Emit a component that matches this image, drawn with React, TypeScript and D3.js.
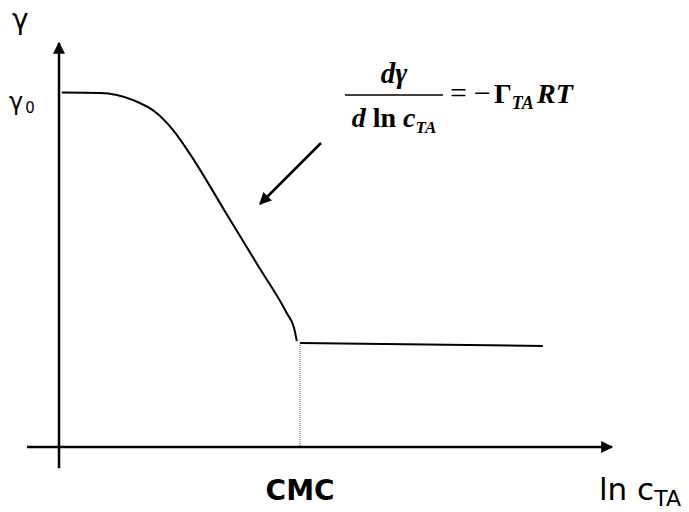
import { useEffect, useRef } from "react"
import * as d3 from "d3"

// curve: x = ln c (arbitrary units), y = surface tension γ
const curveX = [0.05, 0.74, 1.34, 1.77, 2.06, 2.37, 3.0, 3.6, 4.12, 4.25, 4.3]
const curveY = [70.2, 70.1, 68.7, 66.1, 62.8, 58.0, 46.7, 35.9, 26.5, 23.6, 21.0]
const plateauX = [4.36, 8.75]
const plateauY = [20.6, 20.0]
const cmcX = 4.36

const W = 689
const H = 512

export default function App() {
  const svgRef = useRef<SVGSVGElement | null>(null)

  useEffect(() => {
    const svg = d3.select(svgRef.current)
    svg.selectAll("*").remove()

    const x = d3.scaleLinear().domain([0, 10]).range([59, 612])
    const y = d3.scaleLinear().domain([0, 80]).range([447, 43])

    const defs = svg.append("defs")
    defs.append("marker")
      .attr("id", "head")
      .attr("viewBox", "0 0 10 10")
      .attr("refX", 9)
      .attr("refY", 5)
      .attr("markerUnits", "userSpaceOnUse")
      .attr("markerWidth", 14)
      .attr("markerHeight", 12)
      .attr("orient", "auto")
      .append("path")
      .attr("d", "M0,0 L10,5 L0,10 Z")
      .attr("fill", "#000")

    const hand = "'Comic Sans MS', 'DejaVu Sans', sans-serif"
    const math = "'Liberation Serif', 'Times New Roman', serif"

    // axes
    svg.append("line")
      .attr("x1", x(-0.58)).attr("x2", x(10))
      .attr("y1", y(0)).attr("y2", y(0))
      .attr("stroke", "#000").attr("stroke-width", 2.5)
      .attr("marker-end", "url(#head)")
    svg.append("line")
      .attr("x1", x(0)).attr("x2", x(0))
      .attr("y1", y(-4.2)).attr("y2", y(80))
      .attr("stroke", "#000").attr("stroke-width", 2.5)
      .attr("marker-end", "url(#head)")

    // cmc guide
    svg.append("line")
      .attr("x1", x(cmcX)).attr("x2", x(cmcX))
      .attr("y1", y(plateauY[0])).attr("y2", y(0))
      .attr("stroke", "#555").attr("stroke-width", 1)
      .attr("stroke-dasharray", "1,1")

    const line = d3.line<[number, number]>()
      .x(d => x(d[0]))
      .y(d => y(d[1]))

    svg.append("path")
      .attr("d", line.curve(d3.curveMonotoneX)(d3.zip(curveX, curveY) as [number, number][]))
      .attr("fill", "none").attr("stroke", "#000").attr("stroke-width", 2)

    svg.append("path")
      .attr("d", line.curve(d3.curveLinear)(d3.zip(plateauX, plateauY) as [number, number][]))
      .attr("fill", "none").attr("stroke", "#000").attr("stroke-width", 2)

    // pointer arrow
    svg.append("line")
      .attr("x1", 321).attr("y1", 143)
      .attr("x2", 260).attr("y2", 204)
      .attr("stroke", "#000").attr("stroke-width", 2.5)
      .attr("marker-end", "url(#head)")

    // labels
    svg.append("text")
      .attr("x", 12).attr("y", 29)
      .attr("font-family", hand).attr("font-size", 28)
      .text("γ")

    const g0 = svg.append("text")
      .attr("x", 9).attr("y", 110)
      .attr("font-family", hand).attr("font-size", 24)
    g0.append("tspan").text("γ")
    g0.append("tspan").attr("font-size", 15).attr("dy", 3).attr("dx", 2).text("0")

    svg.append("text")
      .attr("x", x(cmcX)).attr("y", 500)
      .attr("text-anchor", "middle")
      .attr("font-family", hand).attr("font-size", 28).attr("font-weight", 600)
      .text("CMC")

    const lab = svg.append("text")
      .attr("x", 599).attr("y", 500)
      .attr("font-family", hand).attr("font-size", 31)
    lab.append("tspan").text("ln c")
    lab.append("tspan").attr("font-size", 22).attr("dy", 6).text("TA")

    // formula
    const fx = 394
    svg.append("line")
      .attr("x1", 345).attr("x2", 443)
      .attr("y1", 95).attr("y2", 95)
      .attr("stroke", "#000").attr("stroke-width", 1.5)

    svg.append("text")
      .attr("x", fx).attr("y", 83)
      .attr("text-anchor", "middle")
      .attr("font-family", math).attr("font-size", 29)
      .attr("font-weight", "bold").attr("font-style", "italic")
      .text("dγ")

    const den = svg.append("text")
      .attr("x", fx).attr("y", 127)
      .attr("text-anchor", "middle")
      .attr("font-family", math).attr("font-size", 28)
      .attr("font-weight", "bold")
    den.append("tspan").attr("font-style", "italic").text("d ")
    den.append("tspan").text("ln ")
    den.append("tspan").attr("font-style", "italic").text("c")
    den.append("tspan").attr("font-style", "italic").attr("font-size", 17).attr("dy", 6).text("TA")

    const rhs = svg.append("text")
      .attr("y", 103)
      .attr("font-family", math).attr("font-size", 28)
    rhs.append("tspan").attr("x", 450).attr("font-size", 30).text("=")
    rhs.append("tspan").attr("x", 474).attr("font-size", 30).text("−")
    rhs.append("tspan").attr("x", 494).attr("font-weight", "bold").text("Γ")
    rhs.append("tspan").attr("font-weight", "bold").attr("font-style", "italic")
      .attr("font-size", 18).attr("dy", 6).text("TA")
    rhs.append("tspan").attr("x", 537).attr("font-weight", "bold").attr("font-style", "italic")
      .attr("dy", -6).text("RT")
  }, [])

  return (
    <svg
      ref={svgRef}
      width={W}
      height={H}
      style={{ position: "absolute", left: 0, top: 0, background: "#fff" }}
    />
  )
}
